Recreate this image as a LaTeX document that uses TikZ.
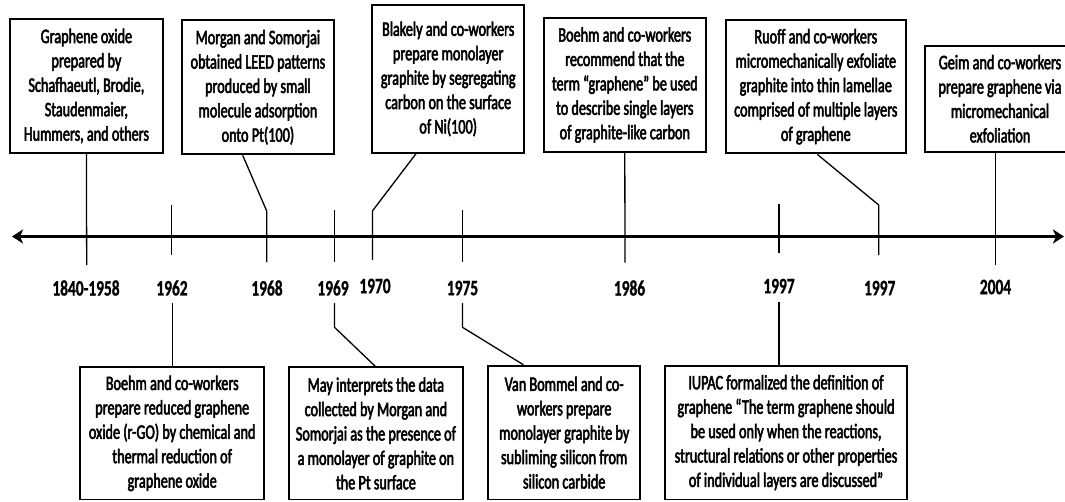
\documentclass[tikz,border=0pt]{standalone}
\usepackage{fontspec}
\setmainfont{Carlito}[FakeStretch=0.69, FakeBold=2.5]
\newfontfamily\yearfont{Carlito Bold}[FakeStretch=0.70, FakeBold=1]
\usetikzlibrary{arrows.meta}
\tikzset{
  evbox/.style={draw, line width=1.9pt, inner sep=0pt, align=center,
    font=\fontsize{20.6}{24.4}\selectfont},
  yearlbl/.style={inner sep=0pt, font=\fontsize{22}{24}\yearfont},
  conn/.style={line width=1.3pt},
  axisline/.style={line width=2.3pt,
    {Stealth[length=11pt,width=14pt,inset=3pt]}-{Stealth[length=11pt,width=14pt,inset=3pt]}}
}
\begin{document}
\begin{tikzpicture}[x=1pt,y=-1pt]
\useasboundingbox (0,0) rectangle (1065,501);
\clip (0,0) rectangle (1065,501);
\fill[white] (0,0) rectangle (1065,501);

% top boxes
\node[evbox, minimum width=152.7pt, minimum height=133.4pt] (A) at (86.4,86)
  {Graphene oxide\\prepared by\\Schafhaeutl, Brodie,\\Staudenmaier,\\Hummers, and others};
\node[evbox, minimum width=152.3pt, minimum height=134.3pt] (B) at (257.9,87.2)
  {Morgan and Somorjai\\obtained LEED patterns\\produced by small\\molecule adsorption\\onto Pt(100)};
\node[evbox, minimum width=151.8pt, minimum height=147.7pt] (C) at (448.2,78.9)
  {Blakely and co-workers\\prepare monolayer\\graphite by segregating\\carbon on the surface\\of Ni(100)};
\node[evbox, minimum width=162.4pt, minimum height=133.4pt] (D) at (624.8,85)
  {Boehm and co-workers\\recommend that the\\term “graphene” be used\\to describe single layers\\of graphite-like carbon};
\node[evbox, minimum width=180pt, minimum height=133.3pt] (E) at (815.8,86.7)
  {Ruoff and co-workers\\micromechanically exfoliate\\graphite into thin lamellae\\comprised of multiple layers\\of graphene};
\node[evbox, minimum width=150pt, minimum height=106pt] (F) at (1000,98.7)
  {Geim and co-workers\\prepare graphene via\\micromechanical\\exfoliation};

% bottom boxes
\node[evbox, minimum width=183.9pt, minimum height=132.2pt] (G) at (172.2,433.4)
  {Boehm and co-workers\\prepare reduced graphene\\oxide (r-GO) by chemical and\\thermal reduction of\\graphene oxide};
\node[evbox, minimum width=174.6pt, minimum height=132.2pt] (H) at (375.9,433.4)
  {May interprets the data\\collected by Morgan and\\Somorjai as the presence of\\a monolayer of graphite on\\the Pt surface};
\node[evbox, minimum width=151.7pt, minimum height=133.8pt] (I) at (564.2,432.6)
  {Van Bommel and co-\\workers prepare\\monolayer graphite by\\subliming silicon from\\silicon carbide};
\node[evbox, minimum width=241.9pt, minimum height=133.8pt] (J) at (786,432.6)
  {IUPAC formalized the definition of\\graphene “The term graphene should\\be used only when the reactions,\\structural relations or other properties\\of individual layers are discussed”};

% year labels
\node[yearlbl] (y1840) at (86,288) {1840-1958};
\node[yearlbl] (y1962) at (172,288) {1962};
\node[yearlbl] (y1968) at (267,288) {1968};
\node[yearlbl] (y1969) at (333,288) {1969};
\node[yearlbl] (y1970) at (375,286) {1970};
\node[yearlbl] (y1975) at (462.5,288) {1975};
\node[yearlbl] (y1986) at (629.5,288) {1986};
\node[yearlbl] (y1997a) at (779,286) {1997};
\node[yearlbl] (y1997b) at (879.7,288) {1997};
\node[yearlbl] (y2004) at (995.5,287) {2004};

% axis
\coordinate (axL) at (12,236.5);
\coordinate (axR) at (1064,236.5);
\draw[axisline] (axL) -- (axR);

% coordinates
\coordinate (e1840) at (86.7,265);
\coordinate (t1962a) at (171.7,205);
\coordinate (t1962b) at (171.7,255);
\coordinate (s1962) at (172.2,303);
\coordinate (b1968) at (266.7,211);
\coordinate (e1968) at (266.7,262);
\coordinate (t1969a) at (334.2,210);
\coordinate (t1969b) at (334.2,262);
\coordinate (s1969) at (334.5,303);
\coordinate (b1969) at (334.5,327.3);
\coordinate (b1970) at (372.4,211);
\coordinate (e1970) at (372.4,260);
\coordinate (t1975a) at (462.8,210);
\coordinate (t1975b) at (462.8,262);
\coordinate (s1975) at (462.5,303);
\coordinate (b1975) at (462.5,327.3);
\coordinate (e1986) at (625,262.7);
\coordinate (t1997a) at (779,204);
\coordinate (t1997b) at (779,253);
\coordinate (s1997) at (779,301.7);
\coordinate (b1997) at (878.7,205);
\coordinate (e1997) at (878.7,255);
\coordinate (e2004) at (995.7,265);

% connectors
\draw[conn] (A.south) -- (e1840);
\draw[conn] (t1962a) -- (t1962b);
\draw[conn] (s1962) -- (G.north);
\draw[conn] ([xshift=-15.2pt]B.south) -- (b1968) -- (e1968);
\draw[conn] (t1969a) -- (t1969b);
\draw[conn] (s1969) -- (b1969) -- ([xshift=-0.6pt]H.north);
\draw[conn] ([xshift=-32.2pt]C.south) -- (b1970) -- (e1970);
\draw[conn] (t1975a) -- (t1975b);
\draw[conn] (s1975) -- (b1975) -- ([xshift=-40.8pt]I.north);
\draw[conn] (D.south) -- (e1986);
\draw[conn] (t1997a) -- (t1997b);
\draw[conn] (s1997) -- (s1997 |- J.north);
\draw[conn] ([xshift=1.4pt]E.south) -- (b1997) -- (e1997);
\draw[conn] ([xshift=-4.3pt]F.south) -- (e2004);
\end{tikzpicture}
\end{document}
